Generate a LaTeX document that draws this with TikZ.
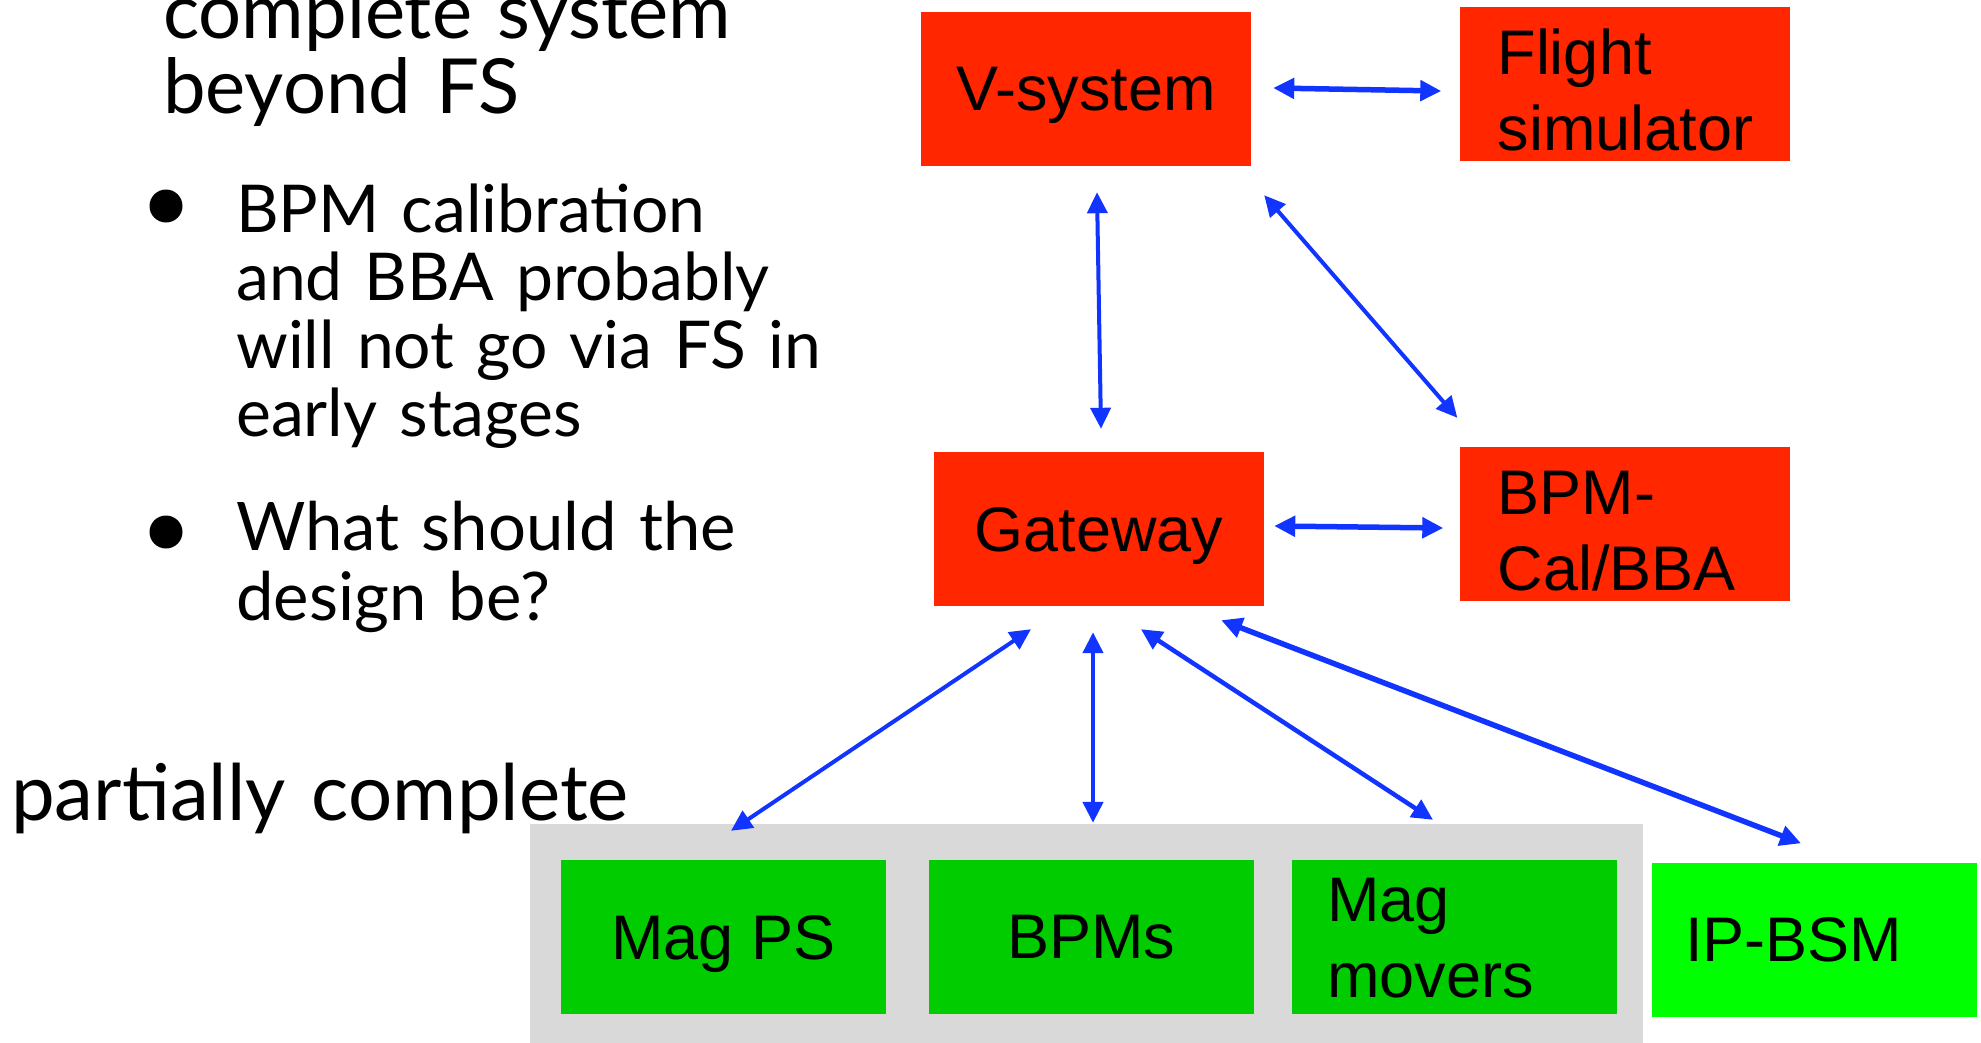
\documentclass[tikz,border=0pt]{standalone}
\usepackage{fontspec}
\usepackage{tikz}
\usetikzlibrary{arrows.meta}

\newfontfamily\slidefont{Lato}
\newfontfamily\boxfont{Liberation Sans}

\definecolor{boxred}{RGB}{255,38,0}
\definecolor{boxgreen}{RGB}{0,204,0}
\definecolor{litegreen}{RGB}{0,255,0}
\definecolor{panelgray}{RGB}{217,217,217}
\definecolor{linkblue}{RGB}{18,52,255}

\begin{document}
\begin{tikzpicture}[x=1pt, y=-1pt, >={Triangle[length=21pt,width=20pt]},
    redbox/.style={fill=boxred, minimum width=330pt, minimum height=154pt, inner sep=0pt,
        font=\boxfont\fontsize{63}{76}\selectfont},
    greenbox/.style={fill=boxgreen, minimum width=325pt, minimum height=154pt, inner sep=0pt,
        font=\boxfont\fontsize{63}{76}\selectfont},
    oneline/.style={text depth=0pt},
    twoline/.style={text width=254pt, align=left},
    link/.style={<->, draw=linkblue, line width=4.5pt},
    slide/.style={anchor=base west, align=left, inner sep=0pt, text width=800pt},
    dot/.style={circle, fill=black, minimum size=33pt, inner sep=0pt}]
    \useasboundingbox (0,0) rectangle (1981,1042);

    % Left text
    \node[slide, font=\slidefont\fontsize{76}{75}\selectfont] (heading) at (163,38) {complete system\\beyond FS};
    \node[dot] (dot1) at (166,206) {};
    \node[slide, font=\slidefont\fontsize{66}{68.3}\selectfont] (item1) at (236,232)
        {BPM calibration\\and BBA probably\\will not go via FS in\\early stages};
    \node[dot] (dot2) at (166,532) {};
    \node[slide, font=\slidefont\fontsize{67}{70}\selectfont] (item2) at (236,550) {What should the\\design be?};
    \node[slide, font=\slidefont\fontsize{78}{78}\selectfont] (partial) at (11,820) {partially complete};

    % Upper boxes
    \node[redbox, oneline] (vsys) at (1086,89) {V-system};
    \node[redbox, twoline, text height=59pt] (flight) at (1624.5,83.5) {Flight\\simulator};
    \node[redbox, oneline] (gateway) at (1099,529) {Gateway};
    \node[redbox, twoline, text height=58pt] (bpmcal) at (1624.5,524) {BPM-\\Cal/BBA};

    % Lower boxes
    \node[fill=panelgray, minimum width=1113pt, minimum height=240pt, inner sep=0pt, anchor=north west] (panel) at (530,824) {};
    \node[greenbox, oneline] (magps) at (723.5,937) {Mag PS};
    \node[greenbox, oneline] (bpms) at (1091,937) {BPMs};
    \node[greenbox, twoline, text height=46pt] (movers) at (1454,937) {Mag\\movers};
    \node[greenbox, oneline, fill=litegreen] (ipbsm) at (1814.5,939.5) {\hspace*{-42pt}IP-BSM};

    % Links
    \draw[link, line width=5.5pt] ([xshift=22pt,yshift=1pt]vsys.east) -- ([xshift=-18pt,yshift=-7.5pt]flight.west);
    \draw[link, line width=4pt] ([xshift=11pt,yshift=-26pt]vsys.south) -- ([xshift=2pt,yshift=23pt]gateway.north);
    \draw[link, line width=4pt] ([xshift=13pt,yshift=-29pt]vsys.south east) -- ([xshift=-2pt,yshift=29pt]bpmcal.north west);
    \draw[link, line width=5.5pt] ([xshift=10pt,yshift=3pt]gateway.east) -- ([xshift=-16pt,yshift=-4pt]bpmcal.west);
    \draw[link, line width=4pt] ([xshift=-68pt,yshift=-23pt]gateway.south) -- ([xshift=7.5pt,yshift=29pt]magps.north);
    \draw[link] ([xshift=-6pt,yshift=-26pt]gateway.south) -- ([xshift=2pt,yshift=37pt]bpms.north);
    \draw[link] ([xshift=42pt,yshift=-23pt]gateway.south) -- ([xshift=-21pt,yshift=40pt]movers.north);
    \draw[link, line width=5.5pt] ([xshift=-43pt,yshift=-14pt]gateway.south east) -- ([xshift=-13.5pt,yshift=19pt]ipbsm.north);
\end{tikzpicture}
\end{document}
